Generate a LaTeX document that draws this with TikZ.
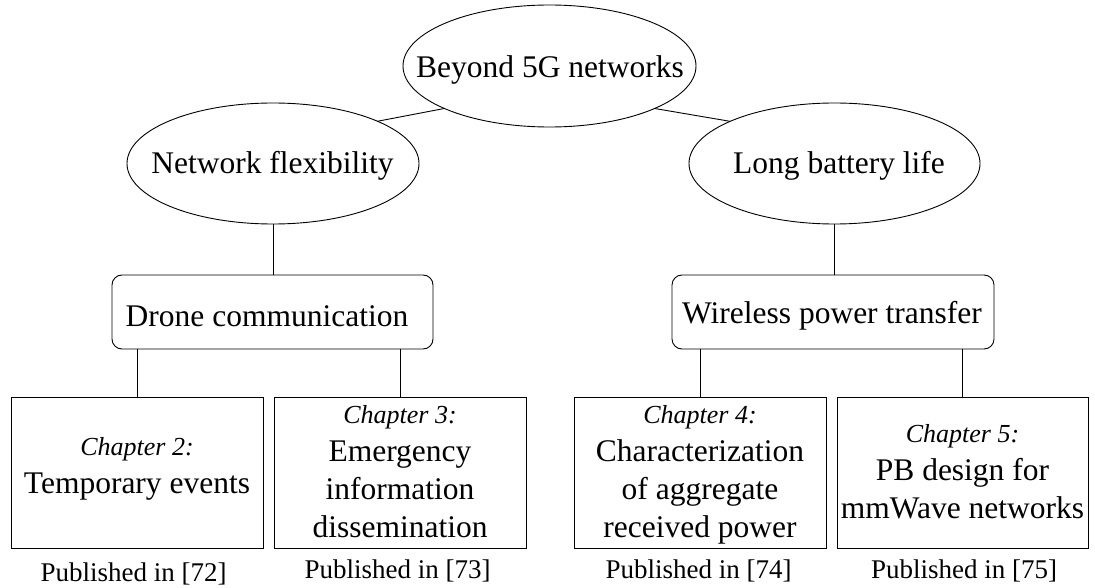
\documentclass[tikz,border=0pt]{standalone}
\usepackage{fontspec}
\setmainfont{Liberation Serif}
\usetikzlibrary{shapes.geometric}
\begin{document}
\begin{tikzpicture}[x=1pt,y=-1pt,
  every node/.style={inner sep=0pt, outer sep=0pt},
  conn/.style={draw=black, line width=0.9pt},
  bigfont/.style={font=\fontsize{31.5}{38}\selectfont},
  oval/.style={ellipse, draw, line width=0.9pt},
  rbox/.style={rectangle, rounded corners=10pt, draw, line width=0.9pt, minimum width=321pt, minimum height=74pt},
  chbox/.style={rectangle, draw, line width=0.9pt, minimum width=252pt, minimum height=151pt},
  lbltext/.style={anchor=base, bigfont},
  chtext/.style={anchor=base, align=center, bigfont},
  pub/.style={anchor=base, font=\fontsize{27}{32}\selectfont}]
\useasboundingbox (0,0) rectangle (1095,588);

% ellipses
\node[oval, minimum width=293pt, minimum height=122pt] (b5g) at (549.5,66) {};
\node[lbltext] (b5gt) at (550,78) {Beyond 5G networks};
\node[oval, minimum width=292pt, minimum height=121pt] (nf) at (273,163.5) {};
\node[lbltext] (nft) at (272.5,174) {Network flexibility};
\node[oval, minimum width=291pt, minimum height=121pt] (lbl) at (834.5,163.5) {};
\node[lbltext] (lblt) at (839,174) {Long battery life};

% rounded boxes
\node[rbox] (drone) at (272.5,312) {};
\node[lbltext] (dronet) at (267,326) {Drone communication};
\node[rbox, minimum width=322pt] (wpt) at (833,312) {};
\node[lbltext] (wptt) at (832,323) {Wireless power transfer};

% chapter boxes (text anchored at the baseline of its last line)
\node[chbox] (c2) at (137,472.5) {};
\node[chtext] (c2t) at (137,493) {{\fontsize{26}{38}\selectfont\itshape Chapter 2:}\\Temporary events};
\node[chbox] (c3) at (400,472.5) {};
\node[chtext] (c3t) at (400,537) {{\fontsize{26}{38}\selectfont\itshape Chapter 3:}\\Emergency\\information\\dissemination};
\node[chbox] (c4) at (700,472.5) {};
\node[chtext] (c4t) at (700,537) {{\fontsize{26}{38}\selectfont\itshape Chapter 4:}\\Characterization\\of aggregate\\received power};
\node[chbox, minimum width=251pt] (c5) at (962.5,472.5) {};
\node[chtext] (c5t) at (962.5,518) {{\fontsize{26}{38}\selectfont\itshape Chapter 5:}\\PB design for\\mmWave networks};

% publication notes
\node[pub] (p72) at (133.5,581) {Published in [72]};
\node[pub] (p73) at (397.5,578) {Published in [73]};
\node[pub] (p74) at (698.5,578) {Published in [74]};
\node[pub] (p75) at (964,578) {Published in [75]};

% connectors
\draw[conn] (b5g.202) -- (nf.22.5);
\draw[conn] (b5g.338) -- (lbl.158);
\draw[conn] (nf.south) -- (nf.south |- drone.north);
\draw[conn] (lbl.south) -- (lbl.south |- wpt.north);
\draw[conn] (c2.north |- drone.south) -- (c2.north);
\draw[conn] (c3.north |- drone.south) -- (c3.north);
\draw[conn] (c4.north |- wpt.south) -- (c4.north);
\draw[conn] (c5.north |- wpt.south) -- (c5.north);
\end{tikzpicture}
\end{document}
